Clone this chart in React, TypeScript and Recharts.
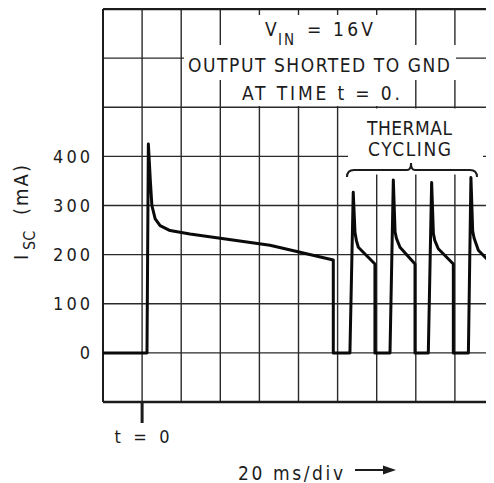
import React from 'react';
import { LineChart, Line, XAxis, YAxis, CartesianGrid, ReferenceLine } from 'recharts';

// time in ms (20 ms per division), t = 0 is when the output is shorted
const timeMs = [
  -20, 2.5, 3.2, 4.2, 5.0, 6.7, 9.2, 14.3, 24.5, 65.4, 97.8, 97.8,
  106.3, 108.0, 108.9, 109.6, 110.6, 119.1, 119.1,
  126.8, 128.5, 129.4, 130.1, 131.9, 139.6, 139.6,
  146.4, 148.1, 149.0, 149.7, 151.5, 159.2, 159.2,
  166.9, 168.2, 169.1, 169.8, 172.0, 178.8, 178.8, 180,
];
// short-circuit current in mA
const currentMa = [
  0, 0, 425, 351, 300, 273, 259, 249, 242, 219, 189, 0,
  0, 327, 245, 229, 215, 181, 0,
  0, 352, 246, 233, 215, 181, 0,
  0, 347, 243, 229, 212, 181, 0,
  0, 357, 248, 234, 209, 181, 0, 0,
];
const yTicks = [-100, 0, 100, 200, 300, 400, 500, 600, 700];
const yLabelTicks = [0, 100, 200, 300, 400];
const xTicks = [-20, 0, 20, 40, 60, 80, 100, 120, 140, 160, 180];
const tZeroLabel = 't = 0';
const titleLines = ['OUTPUT SHORTED TO GND', 'AT TIME t = 0.'];
const cyclingLines = ['THERMAL', 'CYCLING'];
const xUnitLabel = '20 ms/div';

const data = timeMs.map((t, i) => ({ t, i: currentMa[i] }));

const FONT = "'DejaVu Sans Condensed', 'Liberation Sans', Arial, sans-serif";
const INK = '#1c1c1c';

const YTick = (props: any) => {
  const { x, y, payload } = props;
  if (!yLabelTicks.includes(payload.value)) return <g />;
  const s = String(payload.value);
  return (
    <text x={x - 13} y={y} dy="0.36em" textAnchor="end" fontFamily={FONT} fontSize={18}
      fill={INK} textLength={s.length > 1 ? s.length * 12.3 : undefined} lengthAdjust="spacing">
      {s}
    </text>
  );
};

const XTick = (props: any) => {
  const { x, y, payload } = props;
  if (payload.value !== 0) return <g />;
  return (
    <g>
      <line x1={x} x2={x} y1={y} y2={y + 21} stroke={INK} strokeWidth={3} />
      <text x={x} y={y + 41} textAnchor="middle" fontFamily={FONT} fontSize={18} fill={INK}
        textLength={55} lengthAdjust="spacing">{tZeroLabel}</text>
    </g>
  );
};

export default function App() {
  const W = 486;
  const H = 475;
  return (
    <div style={{ position: 'relative', width: W, height: H, background: '#fff' }}>
      <LineChart width={W} height={H} data={data} margin={{ top: 1, right: 0, bottom: 0, left: 0 }}>
        <CartesianGrid stroke="#2a2a2a" strokeWidth={1.4} />
        <XAxis dataKey="t" type="number" domain={[-20, 180]} ticks={xTicks} interval={0}
          allowDataOverflow height={81} tickLine={false} axisLine={false} tickSize={0} tickMargin={0}
          tick={XTick} />
        <YAxis type="number" domain={[-100, 700]} ticks={yTicks} interval={0} width={95}
          allowDataOverflow tickLine={false} axisLine={false} tickSize={0} tickMargin={0} tick={YTick} />
        <ReferenceLine y={700} stroke={INK} strokeWidth={2.5} />
        <ReferenceLine y={-100} stroke={INK} strokeWidth={2.5} />
        <ReferenceLine x={-20} stroke={INK} strokeWidth={2} />
        <Line dataKey="i" type="linear" stroke="#0a0a0a" strokeWidth={3} dot={false}
          isAnimationActive={false} strokeLinejoin="round" />
      </LineChart>
      <svg width={W} height={H} style={{ position: 'absolute', left: 0, top: 0, pointerEvents: 'none' }}
        fontFamily={FONT} fill={INK}>
        {/* title box */}
        <rect x={222} y={7} width={180} height={30} fill="#fff" />
        <rect x={176} y={37} width={272} height={35} fill="#fff" />
        <rect x={222} y={72} width={180} height={26} fill="#fff" />
        <text x={257} y={27.5} fontSize={19}>V</text>
        <text x={270} y={37} fontSize={15} textLength={16} lengthAdjust="spacing">IN</text>
        <text x={299} y={28} fontSize={19}>=</text>
        <text x={325} y={28} fontSize={19} textLength={40} lengthAdjust="spacing">16V</text>
        <text x={180} y={63.5} fontSize={19} textLength={262} lengthAdjust="spacing">{titleLines[0]}</text>
        <text x={234} y={92} fontSize={19} textLength={158} lengthAdjust="spacing">{titleLines[1]}</text>
        {/* thermal cycling label */}
        <rect x={340} y={100.5} width={135} height={66} fill="#fff" />
        <text x={359} y={127} fontSize={19} textLength={85} lengthAdjust="spacing">{cyclingLines[0]}</text>
        <text x={360} y={148} fontSize={19} textLength={83} lengthAdjust="spacing">{cyclingLines[1]}</text>
        <path d="M339,169 Q339,162 346,162 L399,162 Q403,162 403,155 Q403,162 407,162 L462,162 Q469,162 469,169"
          fill="none" stroke={INK} strokeWidth={2} />
        {/* y-axis title */}
        <g transform="translate(20,0) rotate(-90)">
          <text x={-252} y={0} fontSize={20}>I</text>
          <text x={-242} y={7} fontSize={16}>SC</text>
          <text x={-207} y={0} fontSize={20} textLength={50} lengthAdjust="spacing">(mA)</text>
        </g>
        {/* x unit */}
        <text x={230} y={472} fontSize={19} textLength={105} lengthAdjust="spacing">{xUnitLabel}</text>
        <line x1={347} x2={378} y1={462} y2={462} stroke={INK} strokeWidth={2} />
        <path d="M375,457.5 L388,462 L375,466.5 Z" fill={INK} />
      </svg>
    </div>
  );
}
